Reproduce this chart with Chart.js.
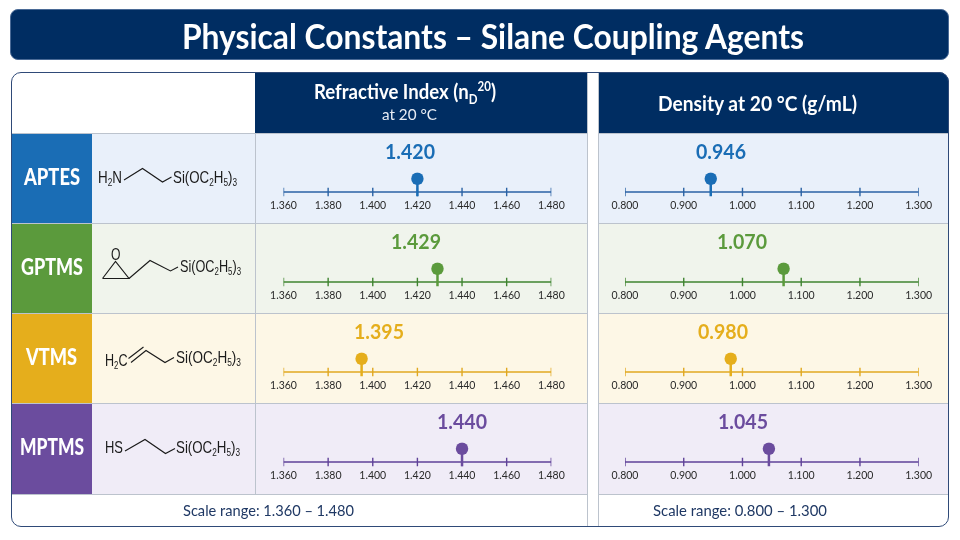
<!DOCTYPE html>
<html>
<head>
<meta charset="utf-8">
<title>Physical Constants</title>
<script src="https://cdn.jsdelivr.net/npm/chart.js@4"></script>
<style>
html, body { margin: 0; padding: 0; background: #fff; }
#page { position: relative; width: 960px; height: 540px; overflow: hidden; font-family: Lato, sans-serif; }
#page div, #page canvas, #page svg { position: absolute; box-sizing: border-box; }
#page .label { white-space: nowrap; line-height: 1.2; transform-origin: left center; z-index: 6; }
.title { left: 10px; top: 9px; width: 939px; height: 51px; background: #002d62; border: 1px solid #4a6a96; border-radius: 8px; }
.frame { left: 11px; top: 72px; width: 938px; height: 455px; border: 1.5px solid #2f4a78; border-radius: 10px; z-index: 5; }
.head { top: 72px; height: 61px; background: #002d62; }
.rule { background: #bcc3cd; }
sub, sup { font-size: 0.62em; line-height: 0; }
</style>
</head>
<body>
<div id="page"></div>
<script>
const agents = ['APTES', 'GPTMS', 'VTMS', 'MPTMS'];
const refractiveValues = [1.420, 1.429, 1.395, 1.440];
const densityValues = [0.946, 1.070, 0.980, 1.045];
const refractiveTicks = [1.360, 1.380, 1.400, 1.420, 1.440, 1.460, 1.480];
const densityTicks = [0.800, 0.900, 1.000, 1.100, 1.200, 1.300];

const agentColors = ['#1a6db5', '#5b9a3c', '#e5ae1c', '#6b4c9e'];
const lineColors = ['#2a62a4', '#3f8430', '#e0a820', '#5f4298'];
const cellColors = ['#e9f0fa', '#f0f4ec', '#fdf7e6', '#f0ecf7'];
const rowTops = [133, 223, 313, 403];

// horizontal extents of the row names
const nameSpans = [[24, 80], [21, 83], [26, 77], [20, 84]];

// centres of the big value labels, per row
const refractiveLabelX = [410, 416, 379, 462];
const densityLabelX = [721, 742, 723, 743];

// bond lines and formula text of each structure: x, baseline, width, then text parts
const structures = [
    { bonds: ['124,180 142.5,168.5 162.5,182 171.5,177'],
      texts: [[98, 183, 24, 'H', '2', 'N'], [173, 183, 64, 'Si(OC', '2', 'H', '5', ')', '3']] },
    { bonds: ['102.5,278.5 129,278.5 115.5,261.5 102.5,278.5', '129,278.5 150,260.5 170.5,271 178,267'],
      texts: [[111, 260, 9.5, 'O'], [180, 272, 61, 'Si(OC', '2', 'H', '5', ')', '3']] },
    { bonds: ['128.5,358.5 143.5,347', '131,362.5 146,350.5 165,362.5 174,357.5'],
      texts: [[105, 366, 22.5, 'H', '2', 'C'], [176, 363, 65, 'Si(OC', '2', 'H', '5', ')', '3']] },
    { bonds: ['125,451 145,439.5 165.5,453.5 175,448.5'],
      texts: [[105, 453, 18, 'HS'], [176, 453, 64, 'Si(OC', '2', 'H', '5', ')', '3']] }
];

const page = document.getElementById('page');

function addDiv(className, style) {
    const el = document.createElement('div');
    el.className = className;
    el.style.cssText = style;
    page.appendChild(el);
    return el;
}

// places a line of text so it runs from x1 to x2, centred on cy
function addText(html, x1, x2, cy, size, weight, color) {
    const el = addDiv('label', `left:${x1}px;top:${cy}px;font-size:${size}px;font-weight:${weight};color:${color};`);
    el.innerHTML = html;
    const k = (x2 - x1) / el.getBoundingClientRect().width;
    el.style.transform = `translateY(-50%) scaleX(${k})`;
}

function buildLayout() {
    addDiv('title', '');
    addText('Physical Constants – Silane Coupling Agents', 182, 804, 35, 35, 700, '#fff');

    addDiv('head', 'left:255px;width:332px;');
    addText('Refractive Index (n<sub>D</sub><sup>20</sup>)', 314, 496, 91, 20, 700, '#fff');
    addText('at 20 °C', 382, 437, 114, 16, 400, '#e8edf5');
    addDiv('head', 'left:598px;width:351px;border-top-right-radius:10px;');
    addText('Density at 20 °C (g/mL)', 658, 857, 103, 20, 700, '#fff');

    agents.forEach((name, i) => {
        const top = rowTops[i];
        const h = i === 3 ? 91 : 90;
        addDiv('', `left:11px;top:${top}px;width:81px;height:${h}px;background:${agentColors[i]};`);
        addDiv('', `left:92px;top:${top}px;width:495px;height:${h}px;background:${cellColors[i]};`);
        addDiv('', `left:598px;top:${top}px;width:351px;height:${h}px;background:${cellColors[i]};`);
        addText(name, nameSpans[i][0], nameSpans[i][1], top + 44, 23, 900, '#fff');
    });

    // row and column rules
    [133, 223, 313, 403, 494].forEach(y => {
        addDiv('rule', `left:11px;top:${y}px;width:576px;height:1px;`);
        addDiv('rule', `left:598px;top:${y}px;width:351px;height:1px;`);
    });
    addDiv('rule', 'left:255px;top:133px;width:1px;height:361px;');
    addDiv('rule', 'left:587px;top:72px;width:1px;height:455px;');
    addDiv('rule', 'left:598px;top:72px;width:1px;height:455px;');

    addText('Scale range: 1.360 – 1.480', 183, 354, 510, 16, 400, '#1f3864');
    addText('Scale range: 0.800 – 1.300', 653, 827, 510, 16, 400, '#1f3864');
    addDiv('frame', '');
}

function buildStructures() {
    const ns = 'http://www.w3.org/2000/svg';
    const svg = document.createElementNS(ns, 'svg');
    svg.setAttribute('width', 960);
    svg.setAttribute('height', 540);
    svg.style.cssText = 'left:0;top:0;z-index:4;';
    structures.forEach(s => {
        s.bonds.forEach(points => {
            const line = document.createElementNS(ns, 'polyline');
            line.setAttribute('points', points);
            line.setAttribute('fill', 'none');
            line.setAttribute('stroke', '#1a1a1a');
            line.setAttribute('stroke-width', '1.1');
            svg.appendChild(line);
        });
        s.texts.forEach(parts => {
            const text = document.createElementNS(ns, 'text');
            text.setAttribute('x', parts[0]);
            text.setAttribute('y', parts[1]);
            text.setAttribute('textLength', parts[2]);
            text.setAttribute('lengthAdjust', 'spacingAndGlyphs');
            text.setAttribute('fill', '#1a1a1a');
            text.setAttribute('font-family', 'Liberation Sans, sans-serif');
            text.setAttribute('font-size', '17');
            let lowered = false;
            parts.slice(3).forEach(part => {
                const span = document.createElementNS(ns, 'tspan');
                const isSub = /^\d$/.test(part);
                span.textContent = part;
                span.setAttribute('font-size', isSub ? '10.5' : '17');
                // dy adds up along the line, so step down into a subscript and back out of it
                span.setAttribute('dy', isSub === lowered ? '0' : (isSub ? '3' : '-3'));
                lowered = isSub;
                text.appendChild(span);
            });
            svg.appendChild(text);
        });
    });
    page.appendChild(svg);
}

// one number line with its lollipop marker
function createScale(left, width, top, value, tickValues, color, lineColor, padLeft, padRight) {
    const canvas = document.createElement('canvas');
    canvas.width = width;
    canvas.height = 81;
    canvas.style.cssText = `left:${left}px;top:${top}px;width:${width}px;height:81px;`;
    page.appendChild(canvas);

    const first = tickValues[0];
    const last = tickValues[tickValues.length - 1];

    new Chart(canvas.getContext('2d'), {
        type: 'scatter',
        data: {
            datasets: [
                {
                    label: 'value',
                    data: [{ x: value, y: -0.33 }, { x: value, y: 1 }],
                    showLine: true,
                    borderColor: color,
                    borderWidth: 2.5,
                    pointBackgroundColor: color,
                    pointBorderColor: color,
                    pointBorderWidth: 0,
                    pointRadius: [0, 6.2]
                },
                {
                    label: 'ticks',
                    data: tickValues.map(v => ({ x: v, y: 0 })),
                    pointStyle: 'line',
                    rotation: 90,
                    pointRadius: 4.2,
                    pointBorderColor: lineColor,
                    pointBorderWidth: 1.4
                },
                {
                    label: 'axis',
                    data: [{ x: first, y: 0 }, { x: last, y: 0 }],
                    showLine: true,
                    borderColor: lineColor,
                    borderWidth: 1.4,
                    pointRadius: 0
                }
            ]
        },
        options: {
            responsive: false,
            animation: false,
            events: [],
            layout: { padding: { left: padLeft, right: padRight, top: 39.15, bottom: 0.85 } },
            plugins: { legend: { display: false }, tooltip: { enabled: false } },
            scales: {
                x: {
                    type: 'linear',
                    min: first,
                    max: last,
                    grid: { display: false, drawTicks: false },
                    border: { display: false },
                    afterBuildTicks: scale => { scale.ticks = tickValues.map(v => ({ value: v })); },
                    ticks: {
                        autoSkip: false,
                        maxRotation: 0,
                        padding: 1,
                        color: '#2a2a2a',
                        font: { family: 'Lato', size: 10.5 },
                        callback: v => v.toFixed(3)
                    }
                },
                y: { display: false, min: -0.5, max: 1.5 }
            }
        }
    });
}

buildLayout();
buildStructures();

agents.forEach((name, i) => {
    const top = rowTops[i];
    createScale(256, 331, top, refractiveValues[i], refractiveTicks, agentColors[i], lineColors[i], 27.5, 35.7);
    createScale(599, 350, top, densityValues[i], densityTicks, agentColors[i], lineColors[i], 26, 30.3);
    addText(refractiveValues[i].toFixed(3), refractiveLabelX[i] - 25, refractiveLabelX[i] + 25, top + 18, 21, 700, agentColors[i]);
    addText(densityValues[i].toFixed(3), densityLabelX[i] - 25, densityLabelX[i] + 25, top + 18, 21, 700, agentColors[i]);
});
</script>
</body>
</html>
